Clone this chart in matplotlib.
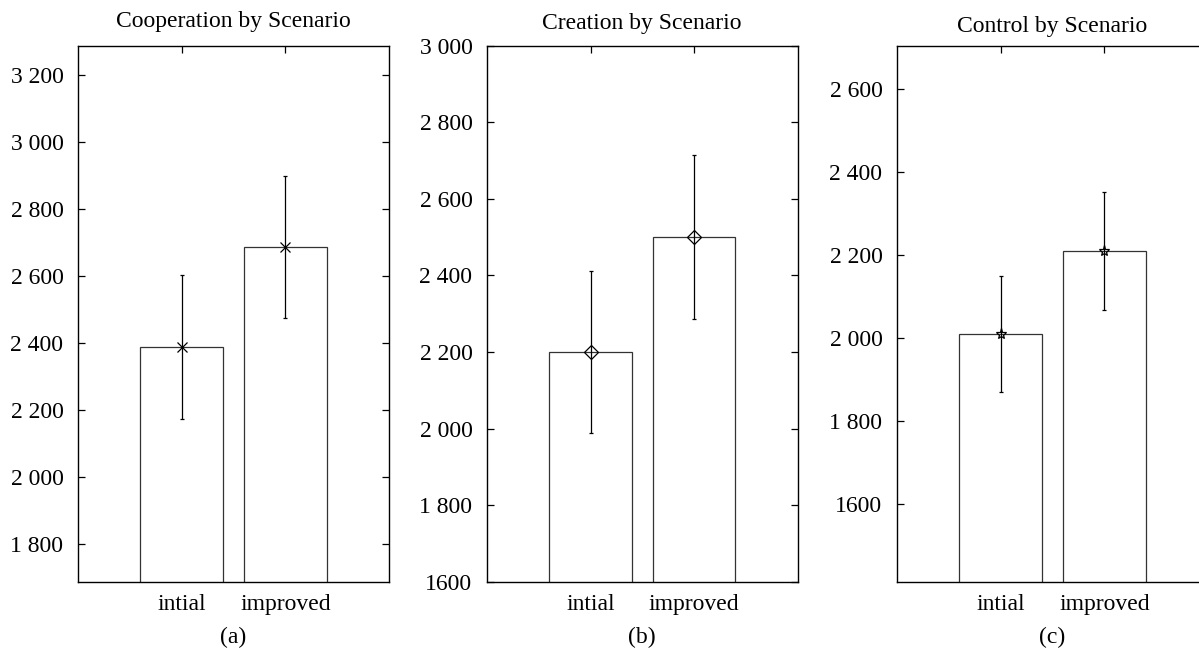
import matplotlib
matplotlib.use("Agg")
import matplotlib.pyplot as plt
import numpy as np

plt.rcParams['font.family'] = ['Liberation Serif', 'DejaVu Serif']

# data
scenarios = ['intial', 'improved']
coop_means = [2388, 2688]
coop_err = [215, 212]
creation_means = [2200, 2500]
creation_err = [212, 215]
control_means = [2010, 2210]
control_err = [140, 142]

titles = ['Cooperation by Scenario', 'Creation by Scenario', 'Control by Scenario']
panel_tags = ['(a)', '(b)', '(c)']
markers = ['x', 'D', '*']
marker_sizes = [7, 7.5, 8]

coop_ticks = [1800, 2000, 2200, 2400, 2600, 2800, 3000, 3200]
coop_labels = ['1 800', '2 000', '2 200', '2 400', '2 600', '2 800', '3 000', '3 200']
creation_ticks = [1600, 1800, 2000, 2200, 2400, 2600, 2800, 3000]
creation_labels = ['1600', '1 800', '2 000', '2 200', '2 400', '2 600', '2 800', '3 000']
control_ticks = [1600, 1800, 2000, 2200, 2400, 2600]
control_labels = ['1600', '1 800', '2 000', '2 200', '2 400', '2 600']

means = [coop_means, creation_means, control_means]
errs = [coop_err, creation_err, control_err]
ticks = [coop_ticks, creation_ticks, control_ticks]
tick_labels = [coop_labels, creation_labels, control_labels]
ylims = [(1688, 3288), (1600, 3000), (1412, 2706)]
title_pads = [13.5, 12, 10]

W, H = 1199, 648
fig = plt.figure(figsize=(W / 100, H / 100), dpi=100)

# axes boxes in pixels: left, right
boxes = [(78, 389), (487, 797.5), (897, 1208)]
top_px, bottom_px = 45.5, 582

x = np.arange(1, len(scenarios) + 1)

for i, (l, r) in enumerate(boxes):
    ax = fig.add_axes([l / W, (H - bottom_px) / H, (r - l) / W, (bottom_px - top_px) / H])
    ax.bar(x, means[i], width=0.8, bottom=0, fill=False,
           edgecolor='#333333', linewidth=0.9)
    ax.errorbar(x, means[i], yerr=errs[i], fmt='none', ecolor='black',
                elinewidth=0.9, capsize=1.5, capthick=0.9)
    # open markers, the error line shows through them
    ax.plot(x, means[i], linestyle='none', marker=markers[i],
            markersize=marker_sizes[i], markerfacecolor='none',
            markeredgecolor='black', markeredgewidth=0.9)
    ax.set_xlim(0, 3)
    ax.set_ylim(*ylims[i])
    ax.set_yticks(ticks[i])
    ax.set_yticklabels(tick_labels[i])
    ax.set_xticks(x)
    ax.set_xticklabels(scenarios)
    ax.tick_params(axis='y', direction='in', length=5, width=0.9,
                   left=True, right=True, labelsize=17, pad=10.5)
    ax.tick_params(axis='x', direction='in', length=5, width=0.9,
                   bottom=False, top=True, labelsize=17, pad=8.5)
    for s in ax.spines.values():
        s.set_linewidth(1.0)
        s.set_color('black')
    ax.set_title(titles[i], fontsize=17, pad=title_pads[i])
    ax.text(0.5, -0.103, panel_tags[i], transform=ax.transAxes,
            ha='center', va='center', fontsize=17)

fig.savefig('out.png', dpi=100)
